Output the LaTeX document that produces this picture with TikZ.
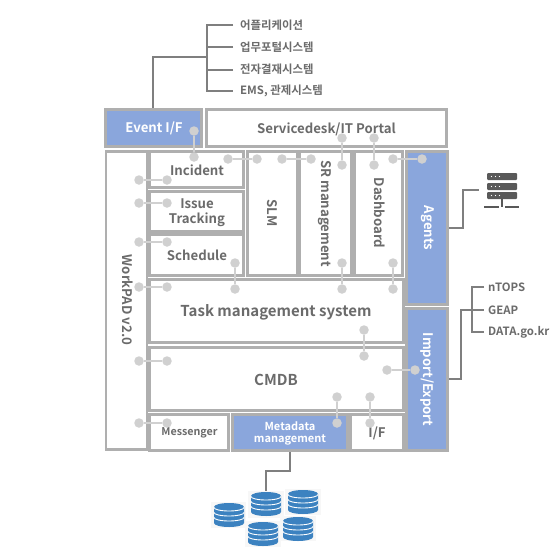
\documentclass[tikz,border=0pt]{standalone}
\usepackage{fontspec}
\setmainfont{Noto Sans CJK KR}[BoldFont={Noto Sans CJK KR Bold}]
\definecolor{bd}{HTML}{AFAFAF}
\definecolor{blu}{HTML}{8AA6DC}
\definecolor{txt}{HTML}{6B6B6B}
\definecolor{lnk}{HTML}{7F7F7F}
\definecolor{dotc}{HTML}{D0D0D0}
\definecolor{dbb}{HTML}{3C82C0}
\definecolor{srv}{HTML}{595959}
\tikzset{
 x=1pt,y=-1pt,
 boxw/.style={draw=bd,line width=2.8pt,fill=white,inner sep=0pt},
 boxb/.style={draw=bd,line width=2.8pt,fill=blu,inner sep=0pt},
 lab/.style={inner sep=0pt,text=txt,anchor=west},
 tg/.style={inner sep=0pt,text=txt,align=center},
 tw/.style={inner sep=0pt,text=white,align=center},
 wire/.style={draw=lnk,line width=1.5pt},
 dotn/.style={circle,fill=dotc,minimum size=9.5pt,inner sep=0pt},
 dotl/.style={draw=dotc,line width=1.3pt},
}
\newcommand{\pr}[5]{% name, x1,y1,x2,y2
 \node[dotn] (#1a) at (#2,#3) {};
 \node[dotn] (#1b) at (#4,#5) {};
 \draw[dotl] (#1a) -- (#1b);}
\newcommand{\dbi}[2]{% centre x, top y
 \begin{scope}[shift={(#1,#2)}]
 \fill[dbb] (-15,4) arc[start angle=180,end angle=360,x radius=15,y radius=4] -- (15,20) arc[start angle=0,end angle=180,x radius=15,y radius=4] -- cycle;
 \foreach \yy in {4.5,9.5,14.5}
   \draw[white,line width=.9pt] (-15,\yy) arc[start angle=180,end angle=0,x radius=15,y radius=3.5];
 \end{scope}}
\newcommand{\tl}[1]{\fontsize{#1}{#1}\bfseries\selectfont}
\begin{document}
\begin{tikzpicture}
\useasboundingbox (0,0) rectangle (560,560);
\fill[white] (0,0) rectangle (560,560);
% wires
\coordinate (evtop) at (153,109);
\coordinate (ev1) at (153,57);
\coordinate (ev2) at (207,57);
\coordinate (t1) at (207,25);
\coordinate (t4) at (207,91);
\draw[wire] (evtop) -- (ev1) -- (ev2);
\node[lab,font=\tl{11.4}] (a1) at (240,25.5) {어플리케이션};
\node[lab,font=\tl{11.4}] (a2) at (240,47.5) {업무포털시스템};
\node[lab,font=\tl{11.4}] (a3) at (240,69.5) {전자결재시스템};
\node[lab,font=\tl{11.4}] (a4) at (240,90.5) {EMS, 관제시스템};
\draw[wire] (233,25) -- (t1) -- (t4) -- (233,91);
\draw[wire] (233,47) -- (207,47);
\draw[wire] (233,70) -- (207,70);
% other wires
\coordinate (ag) at (447,228);
\draw[wire] (ag) -- (463,228) -- (463,190) -- (479,190);
\draw[wire] (447,379) -- (461,379) -- (461,310) -- (484,310);
\node[lab,font=\tl{11.4}] (n1) at (488,287.5) {nTOPS};
\node[lab,font=\tl{11.4}] (n2) at (488,310) {GEAP};
\node[lab,font=\tl{11.4}] (n3) at (488,332.5) {DATA.go.kr};
\draw[wire] (484,287) -- (472,287) -- (472,332) -- (484,332);
\draw[wire] (290,450) -- (290,471) -- (266,471) -- (266,492);
% server icon
\foreach \yy in {173,183,192}{
 \fill[srv,rounded corners=1pt] (487,\yy) rectangle (517,\yy+7);
 \foreach \xx in {491.5,495.5,499.5} \fill[white] (\xx,\yy+3.5) circle (.7);
}
\fill[srv] (501,199) rectangle (503,207);
\fill[srv] (484,205.8) rectangle (499,208);
\fill[srv] (505,205.8) rectangle (519,208);
% boxes
\node[boxb,minimum width=96pt,minimum height=37pt] (evt) at (153.5,128) {};
\node[tw,font=\tl{13.2}] (evtt) at (154,128) {Event I/F};
\node[boxw,minimum width=239.5pt,minimum height=37pt] (svc) at (326.5,128) {};
\node[tg,font=\tl{13.2}] (svct) at (326.5,129) {Servicedesk/IT Portal};
\node[boxw,minimum width=41pt,minimum height=298pt] (wp) at (126.5,300.5) {};
\node[tg,font=\tl{13.2},rotate=-90] (wpt) at (128,300) {WorkPAD v2.0};
\node[boxw,minimum width=94pt,minimum height=36pt] (inc) at (196.5,169.5) {};
\node[tg,font=\tl{13.2}] (inct) at (197,170) {Incident};
\node[boxw,minimum width=94pt,minimum height=40pt] (iss) at (196.5,211.5) {};
\node[tg,font=\fontsize{13.2}{15}\bfseries\selectfont] (isst) at (197,212.5) {Issue\\Tracking};
\node[boxw,minimum width=94pt,minimum height=41pt] (sch) at (196.5,255) {};
\node[tg,font=\tl{13.2}] (scht) at (197,255.5) {Schedule};
\node[boxw,minimum width=50pt,minimum height=124pt] (slm) at (272.5,213.5) {};
\node[tg,font=\tl{13.2},rotate=-90] (slmt) at (272,213) {SLM};
\node[boxw,minimum width=52pt,minimum height=124pt] (sr) at (325.5,213.5) {};
\node[tg,font=\tl{13.2},rotate=-90] (srt) at (325,213.5) {SR management};
\node[boxw,minimum width=48pt,minimum height=124pt] (dash) at (378.5,213.5) {};
\node[tg,font=\tl{13.2},rotate=-90] (dasht) at (379.5,213) {Dashboard};
\node[boxb,minimum width=41pt,minimum height=153pt] (agt) at (427,228) {};
\node[tw,font=\tl{13.2},rotate=-90] (agtt) at (427.5,228) {Agents};
\node[boxb,minimum width=41pt,minimum height=142pt] (imp) at (427,379.5) {};
\node[tw,font=\tl{13.2},rotate=-90] (impt) at (427.5,379.5) {Import/Export};
\node[boxw,minimum width=254pt,minimum height=63pt] (task) at (276.5,311) {};
\node[tg,font=\tl{15}] (taskt) at (276,312.5) {Task management system};
\node[boxw,minimum width=254pt,minimum height=63pt] (cmdb) at (276.5,379) {};
\node[tg,font=\tl{15}] (cmdbt) at (276,379.5) {CMDB};
\node[boxw,minimum width=79pt,minimum height=36pt] (msg) at (189,432.5) {};
\node[tg,font=\tl{10.7}] (msgt) at (189.5,433) {Messenger};
\node[boxb,minimum width=115pt,minimum height=36pt] (meta) at (290,432.5) {};
\node[tw,font=\fontsize{11}{12.5}\bfseries\selectfont] (metat) at (290,433.5) {Metadata\\management};
\node[boxw,minimum width=53pt,minimum height=36pt] (if) at (377,432.5) {};
\node[tg,font=\tl{13.2}] (ift) at (377,433) {I/F};
% dots
\pr{p1}{194}{131}{194}{157}
\pr{p2}{228}{159}{257}{159}
\pr{p3}{282}{159}{311}{159}
\pr{p4}{139}{180}{167}{180}
\pr{p5}{139}{203}{167}{203}
\pr{p6}{139}{242}{167}{242}
\pr{p7}{139}{287}{167}{287}
\pr{p8}{235}{263}{235}{289}
\pr{p9}{342}{138}{342}{165}
\pr{p10}{374}{138}{374}{165}
\pr{p11}{393}{159}{422}{159}
\pr{p12}{342}{263}{342}{289}
\pr{p13}{393}{263}{393}{289}
\pr{p14}{364}{330}{364}{356}
\pr{p15}{387}{370}{415}{370}
\pr{p16}{337}{397}{337}{423}
\pr{p17}{370}{397}{370}{423}
\pr{p18}{139}{361}{167}{361}
\pr{p19}{139}{423}{167}{423}
% databases
\fill[black!3] (211,502) rectangle (246,528);
\fill[black!3] (248,491) rectangle (284,518);
\fill[black!3] (285,489) rectangle (321,515);
\fill[black!3] (245,521) rectangle (281,547);
\fill[black!3] (280,516) rectangle (316,541);
\dbi{229}{503}
\dbi{266}{492}
\dbi{303}{490}
\dbi{263}{522}
\dbi{298}{517}
\end{tikzpicture}
\end{document}
